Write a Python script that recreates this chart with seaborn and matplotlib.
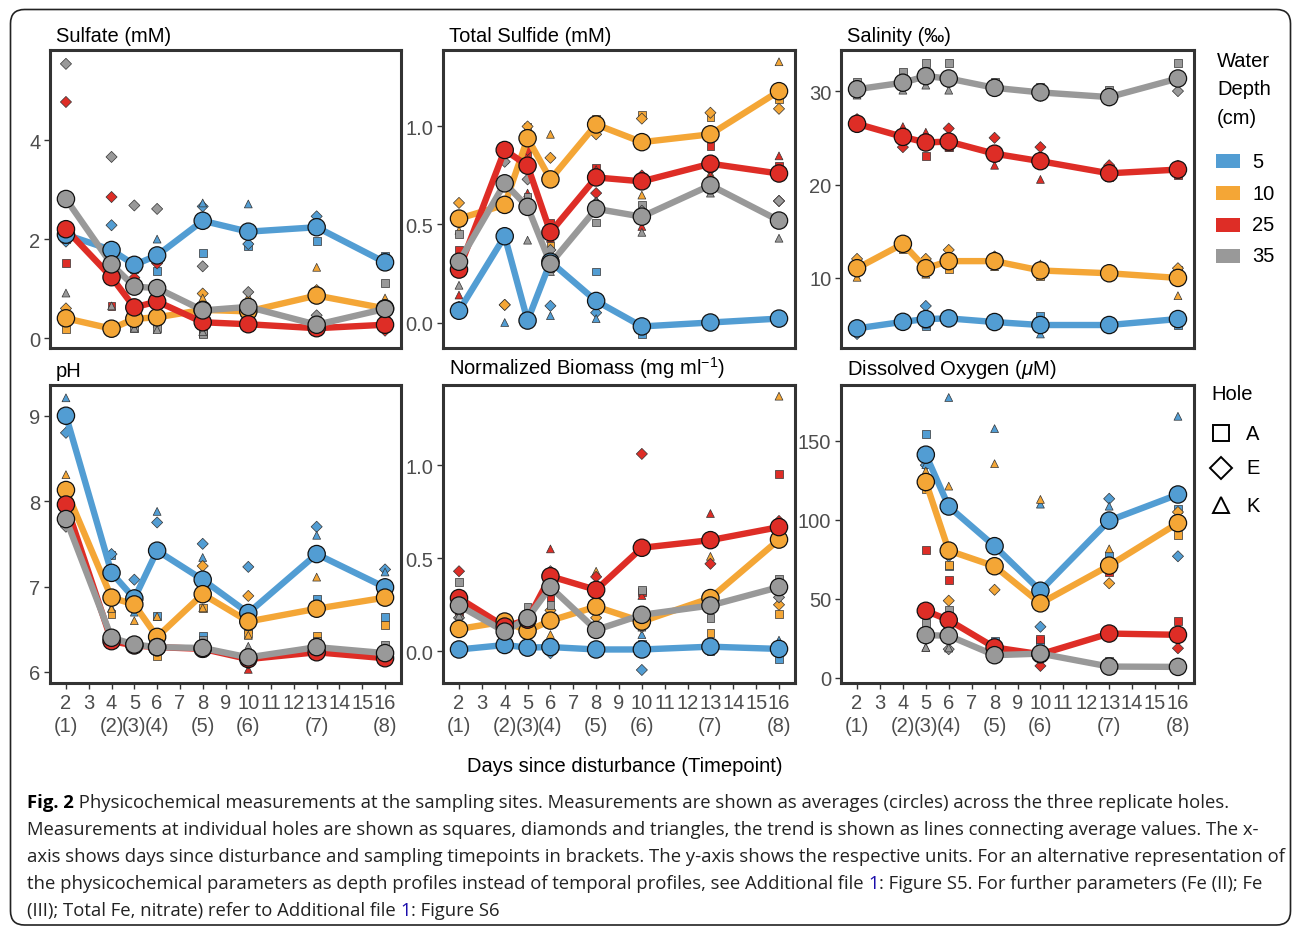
import numpy as np
import pandas as pd
import matplotlib
matplotlib.use("Agg")
import matplotlib.pyplot as plt
import seaborn as sns
from matplotlib.patches import FancyBboxPatch, Rectangle
from matplotlib.lines import Line2D

nan = np.nan

# ---------------- data ----------------
days = [2, 4, 5, 6, 8, 10, 13, 16]
timepoints = ["(1)", "(2)", "(3)", "(4)", "(5)", "(6)", "(7)", "(8)"]
depth_levels = ["5", "10", "25", "35"]
hole_levels = ["A", "E", "K"]
depth_colors = ["#529DD3", "#F4A636", "#DE2D26", "#999999"]

# Sulfate (mM)
sulfate_mean = {
    "5": [2.09, 1.78, 1.48, 1.67, 2.37, 2.15, 2.24, 1.53],
    "10": [0.40, 0.19, 0.39, 0.42, 0.57, 0.54, 0.86, 0.60],
    "25": [2.20, 1.23, 0.62, 0.74, 0.32, 0.28, 0.20, 0.27],
    "35": [2.81, 1.49, 1.04, 1.01, 0.56, 0.63, 0.27, 0.59],
}
sulfate_holes = {
    "5": {"A": [2.05, 1.55, 1.40, 1.36, 1.72, 1.86, 1.97, 1.66],
          "E": [1.95, 2.28, 1.50, 1.65, 2.66, 1.90, 2.46, 1.50],
          "K": [2.25, 1.50, 1.55, 2.00, 2.73, 2.71, 2.30, 1.45]},
    "10": {"A": [0.19, 0.22, 0.30, 0.35, 0.10, 0.40, 0.20, 0.50],
           "E": [0.60, 0.18, 0.45, 0.40, 0.90, 0.45, 0.97, 0.50],
           "K": [0.42, 0.20, 0.42, 0.50, 0.81, 0.84, 1.43, 0.81]},
    "25": {"A": [1.51, 0.65, 0.35, 0.40, 0.15, 0.25, 0.15, 0.30],
           "E": [4.77, 2.85, 1.22, 1.51, 0.30, 0.30, 0.25, 0.15],
           "K": [0.32, 0.20, 0.30, 0.30, 0.50, 0.30, 0.20, 0.35]},
    "35": {"A": [2.00, 0.17, 0.20, 0.20, 0.09, 0.50, 0.20, 1.11],
           "E": [5.54, 3.66, 2.68, 2.61, 1.45, 0.93, 0.46, 0.40],
           "K": [0.91, 0.65, 0.20, 0.17, 0.13, 0.45, 0.15, 0.25]},
}

# Total Sulfide (mM)
sulfide_mean = {
    "5": [0.06, 0.44, 0.01, 0.31, 0.11, -0.02, 0.00, 0.02],
    "10": [0.53, 0.60, 0.94, 0.73, 1.01, 0.92, 0.96, 1.18],
    "25": [0.27, 0.88, 0.80, 0.46, 0.74, 0.72, 0.81, 0.76],
    "35": [0.31, 0.71, 0.59, 0.30, 0.58, 0.54, 0.70, 0.52],
}
sulfide_holes = {
    "5": {"A": [0.05, 0.88, 0.00, 0.73, 0.26, -0.06, 0.00, 0.02],
          "E": [0.08, 0.09, 0.00, 0.085, 0.05, -0.02, 0.00, 0.02],
          "K": [0.05, 0.00, 0.02, 0.035, 0.02, 0.00, 0.01, 0.03]},
    "10": {"A": [0.51, 0.88, 1.00, 0.39, 1.04, 1.06, 1.05, 1.14],
           "E": [0.61, 0.09, 1.00, 0.84, 0.96, 1.04, 1.07, 1.09],
           "K": [0.47, 0.83, 0.84, 0.96, 1.02, 0.65, 0.76, 1.33]},
    "25": {"A": [0.37, 0.90, 0.86, 0.51, 0.79, 0.92, 0.90, 0.80],
           "E": [0.30, 0.87, 0.88, 0.44, 0.66, 0.75, 0.78, 0.62],
           "K": [0.14, 0.88, 0.66, 0.43, 0.78, 0.49, 0.75, 0.85]},
    "35": {"A": [0.45, 0.60, 0.64, 0.28, 0.51, 0.60, 0.72, 0.51],
           "E": [0.29, 0.82, 0.73, 0.37, 0.61, 0.57, 0.72, 0.62],
           "K": [0.19, 0.72, 0.42, 0.26, 0.62, 0.46, 0.66, 0.43]},
}

# Salinity (permil)
salinity_mean = {
    "5": [4.6, 5.3, 5.6, 5.67, 5.28, 4.96, 4.96, 5.6],
    "10": [11.04, 13.65, 11.04, 11.8, 11.8, 10.8, 10.5, 10.0],
    "25": [26.5, 25.1, 24.5, 24.6, 23.3, 22.5, 21.2, 21.6],
    "35": [30.2, 30.9, 31.6, 31.35, 30.35, 29.86, 29.36, 31.35],
}
salinity_holes = {
    "5": {"A": [4.8, 5.4, 4.8, 5.6, 5.3, 5.96, 4.9, 4.96],
          "E": [4.0, 5.2, 7.0, 5.7, 5.3, 5.0, 5.0, 5.9],
          "K": [4.9, 5.3, 5.06, 5.7, 5.3, 4.0, 5.0, 6.0]},
    "10": {"A": [11.0, 13.1, 10.8, 10.97, 11.8, 10.25, 10.5, 10.9],
           "E": [12.04, 13.8, 12.04, 13.0, 12.3, 10.7, 10.6, 11.04],
           "K": [10.07, 14.0, 10.4, 11.5, 11.2, 11.5, 10.4, 8.1]},
    "25": {"A": [26.3, 25.1, 23.06, 24.0, 22.9, 22.9, 20.8, 20.98],
           "E": [27.0, 24.0, 24.8, 26.0, 25.0, 24.0, 22.06, 22.0],
           "K": [26.1, 26.2, 25.6, 24.0, 22.06, 20.55, 20.8, 21.8]},
    "35": {"A": [31.0, 32.07, 33.04, 33.04, 31.0, 30.5, 30.1, 33.04],
           "E": [30.0, 30.5, 31.1, 30.9, 30.0, 29.5, 29.0, 30.0],
           "K": [29.57, 30.1, 30.64, 30.1, 30.0, 29.6, 29.0, 31.0]},
}

# pH
ph_mean = {
    "5": [9.0, 7.16, 6.86, 7.42, 7.08, 6.69, 7.38, 6.99],
    "10": [8.13, 6.87, 6.79, 6.41, 6.91, 6.59, 6.74, 6.87],
    "25": [7.96, 6.36, 6.31, 6.29, 6.27, 6.15, 6.23, 6.16],
    "35": [7.79, 6.40, 6.32, 6.29, 6.28, 6.17, 6.29, 6.22],
}
ph_holes = {
    "5": {"A": [9.0, 7.37, 6.80, 6.65, 6.42, 6.50, 6.85, 6.64],
          "E": [8.80, 7.38, 7.08, 7.75, 7.50, 7.23, 7.70, 7.20],
          "K": [9.21, 6.75, 6.70, 7.88, 7.34, 6.43, 7.60, 7.17]},
    "10": {"A": [8.0, 6.68, 6.87, 6.19, 6.75, 6.45, 6.42, 6.55],
           "E": [8.1, 7.19, 6.90, 6.40, 7.24, 6.89, 6.70, 7.0],
           "K": [8.31, 6.74, 6.60, 6.65, 6.75, 6.43, 7.11, 7.05]},
    "25": {"A": [7.90, 6.36, 6.31, 6.29, 6.25, 6.20, 6.25, 6.15],
           "E": [8.0, 6.37, 6.32, 6.30, 6.28, 6.22, 6.24, 6.16],
           "K": [7.98, 6.35, 6.30, 6.28, 6.27, 6.03, 6.20, 6.17]},
    "35": {"A": [7.85, 6.40, 6.32, 6.29, 6.38, 6.12, 6.36, 6.32],
           "E": [7.70, 6.41, 6.33, 6.30, 6.25, 6.10, 6.26, 6.18],
           "K": [7.82, 6.39, 6.31, 6.28, 6.22, 6.30, 6.25, 6.16]},
}

# Normalized Biomass (mg/ml)
biomass_mean = {
    "5": [0.01, 0.034, 0.02, 0.023, 0.01, 0.01, 0.025, 0.013],
    "10": [0.12, 0.16, 0.11, 0.165, 0.24, 0.16, 0.286, 0.60],
    "25": [0.286, 0.133, 0.17, 0.403, 0.33, 0.556, 0.597, 0.667],
    "35": [0.246, 0.106, 0.178, 0.345, 0.115, 0.196, 0.246, 0.345],
}
biomass_holes = {
    "5": {"A": [0.01, 0.03, 0.0, 0.03, 0.0, 0.04, 0.0, -0.04],
          "E": [0.0, 0.04, 0.03, -0.01, 0.01, -0.10, 0.02, 0.02],
          "K": [0.02, 0.03, 0.06, 0.05, 0.02, 0.09, 0.05, 0.06]},
    "10": {"A": [0.11, 0.16, 0.10, 0.18, 0.11, 0.16, 0.10, 0.20],
           "E": [0.12, 0.17, 0.12, 0.22, 0.18, 0.15, 0.25, 0.25],
           "K": [0.13, 0.15, 0.11, 0.09, 0.43, 0.17, 0.51, 1.37]},
    "25": {"A": [0.20, 0.13, 0.20, 0.29, 0.27, 0.32, 0.58, 0.95],
           "E": [0.43, 0.14, 0.15, 0.37, 0.40, 1.06, 0.47, 0.70],
           "K": [0.22, 0.13, 0.16, 0.55, 0.32, 0.30, 0.74, 0.35]},
    "35": {"A": [0.37, 0.10, 0.24, 0.25, 0.12, 0.33, 0.18, 0.39],
           "E": [0.18, 0.11, 0.14, 0.43, 0.11, 0.13, 0.30, 0.29],
           "K": [0.19, 0.11, 0.15, 0.36, 0.12, 0.13, 0.26, 0.36]},
}

# Dissolved Oxygen (uM) - not measured on days 2 and 4
oxygen_mean = {
    "5": [nan, nan, 141.3, 108.5, 83.4, 55.2, 99.6, 116.1],
    "10": [nan, nan, 124.0, 80.6, 70.7, 47.2, 71.1, 98.0],
    "25": [nan, nan, 42.5, 36.6, 19.3, 15.0, 28.1, 27.3],
    "35": [nan, nan, 27.1, 26.7, 14.4, 15.4, 7.2, 7.0],
}
oxygen_holes = {
    "5": {"A": [nan, nan, 154.2, 71.0, 23.5, 23.6, 77.0, 107.0],
          "E": [nan, nan, 134.7, 77.0, 69.0, 32.4, 113.4, 77.0],
          "K": [nan, nan, 135.0, 177.5, 157.8, 110.0, 108.7, 165.6]},
    "10": {"A": [nan, nan, 119.7, 71.7, 20.7, 14.0, 72.0, 90.5],
           "E": [nan, nan, 121.3, 48.9, 55.8, 14.0, 59.9, 105.0],
           "K": [nan, nan, 131.0, 121.4, 135.6, 113.0, 81.7, 98.5]},
    "25": {"A": [nan, nan, 81.0, 62.2, 19.0, 24.5, 66.8, 35.8],
           "E": [nan, nan, 27.0, 28.6, 19.0, 7.6, 8.8, 18.8],
           "K": [nan, nan, 19.3, 19.0, 20.0, 13.0, 8.8, 27.3]},
    "35": {"A": [nan, nan, 35.0, 43.0, 14.0, 15.0, 10.8, 7.0],
           "E": [nan, nan, 27.0, 18.2, 15.0, 16.0, 5.4, 7.0],
           "K": [nan, nan, 19.3, 19.0, 14.0, 15.0, 5.4, 7.0]},
}

# ---------------- style ----------------
sns.set_style("white")
plt.rcParams["font.family"] = ["Liberation Sans", "DejaVu Sans"]
plt.rcParams["mathtext.fontset"] = "custom"
plt.rcParams["mathtext.rm"] = "Liberation Sans"
plt.rcParams["mathtext.it"] = "Liberation Sans:italic"
plt.rcParams["mathtext.bf"] = "Liberation Sans:bold"

W, H = 1293, 929
fig = plt.figure(figsize=(W / 100, H / 100), dpi=100)
fig.patch.set_facecolor("white")

palette = dict(zip(depth_levels, depth_colors))
hole_markers = {"A": "s", "E": "D", "K": "^"}


def means_frame(mean_dict):
    rows = []
    for d in depth_levels:
        for day, v in zip(days, mean_dict[d]):
            rows.append({"day": day, "depth": d, "value": v})
    return pd.DataFrame(rows).dropna()


def holes_frame(hole_dict):
    rows = []
    for d in depth_levels:
        for h in hole_levels:
            for day, v in zip(days, hole_dict[d][h]):
                rows.append({"day": day, "depth": d, "hole": h, "value": v})
    return pd.DataFrame(rows).dropna()


panels = [
    ("Sulfate (mM)", sulfate_mean, sulfate_holes, (-0.2, 5.82), [0, 2, 4], ["0", "2", "4"]),
    ("Total Sulfide (mM)", sulfide_mean, sulfide_holes, (-0.13, 1.39), [0, 0.5, 1.0], ["0.0", "0.5", "1.0"]),
    ("Salinity (\u2030)", salinity_mean, salinity_holes, (2.5, 34.4), [10, 20, 30], ["10", "20", "30"]),
    ("pH", ph_mean, ph_holes, (5.87, 9.36), [6, 7, 8, 9], ["6", "7", "8", "9"]),
    (r"Normalized Biomass (mg ml$^{\mathregular{-1}}$)", biomass_mean, biomass_holes, (-0.17, 1.43),
     [0, 0.5, 1.0], ["0.0", "0.5", "1.0"]),
    (r"Dissolved Oxygen ($\mathit{\mu}$M)", oxygen_mean, oxygen_holes, (-3.2, 185.4),
     [0, 50, 100, 150], ["0", "50", "100", "150"]),
]

cols = [(50, 401), (443, 795), (841, 1194)]
rows_px = [(51, 349), (386, 684)]
tick_color = "#4d4d4d"
frame_color = "#333333"
FS = 14.5

all_days = list(range(2, 17))
tp_map = dict(zip(days, timepoints))
xlabels = [f"{d}\n{tp_map[d]}" if d in tp_map else f"{d}" for d in all_days]

for i, (title, mdict, hdict, ylim, yt, ytl) in enumerate(panels):
    r, c = divmod(i, 3)
    l, rr = cols[c]
    t, b = rows_px[r]
    ax = fig.add_axes([l / W, 1 - b / H, (rr - l) / W, (b - t) / H])

    hdf = holes_frame(hdict)
    mdf = means_frame(mdict)

    sns.scatterplot(data=hdf, x="day", y="value", hue="depth", hue_order=depth_levels,
                    style="hole", style_order=hole_levels, markers=hole_markers,
                    palette=palette, s=32, edgecolor="#333333", linewidth=0.5,
                    legend=False, ax=ax, zorder=2)
    sns.lineplot(data=mdf, x="day", y="value", hue="depth", hue_order=depth_levels,
                 palette=palette, linewidth=4.6, estimator=None, legend=False,
                 ax=ax, zorder=3, solid_joinstyle="round", solid_capstyle="butt")
    sns.scatterplot(data=mdf, x="day", y="value", hue="depth", hue_order=depth_levels,
                    palette=palette, s=155, edgecolor="#111111", linewidth=0.9,
                    legend=False, ax=ax, zorder=4)

    ax.set_xlim(1.3, 16.7)
    ax.set_ylim(*ylim)
    ax.set_yticks(yt)
    ax.set_yticklabels(ytl)
    ax.set_xlabel("")
    ax.set_ylabel("")
    for sp in ax.spines.values():
        sp.set_visible(True)
        sp.set_color(frame_color)
        sp.set_linewidth(2.2)
    ax.tick_params(axis="y", which="both", left=True, length=4, width=1.0,
                   color=frame_color, labelcolor=tick_color, labelsize=FS, pad=3)
    if r == 0:
        ax.set_xticks([])
    else:
        ax.set_xticks(all_days)
        ax.set_xticklabels(xlabels)
        ax.tick_params(axis="x", which="both", bottom=True, length=4, width=1.0,
                       color=frame_color, labelcolor=tick_color, labelsize=FS, pad=3)
        for lab in ax.get_xticklabels():
            lab.set_linespacing(1.3)
    ax.text(6 / (rr - l), 1 + 5 / (b - t), title, transform=ax.transAxes,
            ha="left", va="bottom", fontsize=FS, color="black")

# ---------------- overlay: legends, labels, caption, border ----------------
ov = fig.add_axes([0, 0, 1, 1], zorder=10)
ov.set_xlim(0, W)
ov.set_ylim(H, 0)
ov.axis("off")
ov.patch.set_visible(False)

# water depth legend
for k, txt in enumerate(["Water", "Depth", "(cm)"]):
    ov.text(1217, 61 + 28.5 * k, txt, ha="left", va="center", fontsize=FS, color="black")
for y, lab, col in zip([162, 194, 225.5, 256.5], depth_levels, depth_colors):
    ov.add_patch(Rectangle((1216, y - 7), 24, 14, facecolor=col, edgecolor="none"))
    ov.text(1252, y, lab, ha="left", va="center", fontsize=FS, color="black")

# hole legend
ov.text(1211, 395, "Hole", ha="left", va="center", fontsize=FS, color="black")
for y, h in zip([434, 469, 506], hole_levels):
    ov.add_line(Line2D([1221], [y], marker=hole_markers[h], markersize=12 if h != "E" else 11,
                       markerfacecolor="none", markeredgecolor="black", markeredgewidth=1.4,
                       linestyle="none"))
    ov.text(1246, y, h, ha="left", va="center", fontsize=FS, color="black")

# common x label
ov.text(625, 767, "Days since disturbance (Timepoint)", ha="center", va="center",
        fontsize=FS, color="black")

# border
ov.add_patch(FancyBboxPatch((10.5, 10.5), 1280, 915.5,
                            boxstyle="round,pad=0,rounding_size=14",
                            facecolor="none", edgecolor="#222222", linewidth=1.2))

# caption
cap_lines = [
    [("Fig. 2", "bold", "black"),
     (" Physicochemical measurements at the sampling sites. Measurements are shown as averages (circles) across the three replicate holes.", "normal", "#222222")],
    [("Measurements at individual holes are shown as squares, diamonds and triangles, the trend is shown as lines connecting average values. The x-", "normal", "#222222")],
    [("axis shows days since disturbance and sampling timepoints in brackets. The y-axis shows the respective units. For an alternative representation of", "normal", "#222222")],
    [("the physicochemical parameters as depth profiles instead of temporal profiles, see Additional file ", "normal", "#222222"),
     ("1", "normal", "#1a0dab"),
     (": Figure S5. For further parameters (Fe (II); Fe", "normal", "#222222")],
    [("(III); Total Fe, nitrate) refer to Additional file ", "normal", "#222222"),
     ("1", "normal", "#1a0dab"),
     (": Figure S6", "normal", "#222222")],
]
cap_family = ["Open Sans", "DejaVu Sans"]
renderer = fig.canvas.get_renderer()
probe = ov.text(0, -100, cap_lines[2][0][0], fontsize=12, family=cap_family)
pw = probe.get_window_extent(renderer).width
probe.remove()
cap_fs = 12 * (1246 / pw)

for k, segs in enumerate(cap_lines):
    x = 27.0
    y = 803 + 27 * k
    for txt, wgt, col in segs:
        tt = ov.text(x, y, txt, ha="left", va="center", fontsize=cap_fs,
                     family=cap_family, fontweight=wgt, color=col)
        x += tt.get_window_extent(renderer).width

fig.savefig("out.png", dpi=100, facecolor="white")
